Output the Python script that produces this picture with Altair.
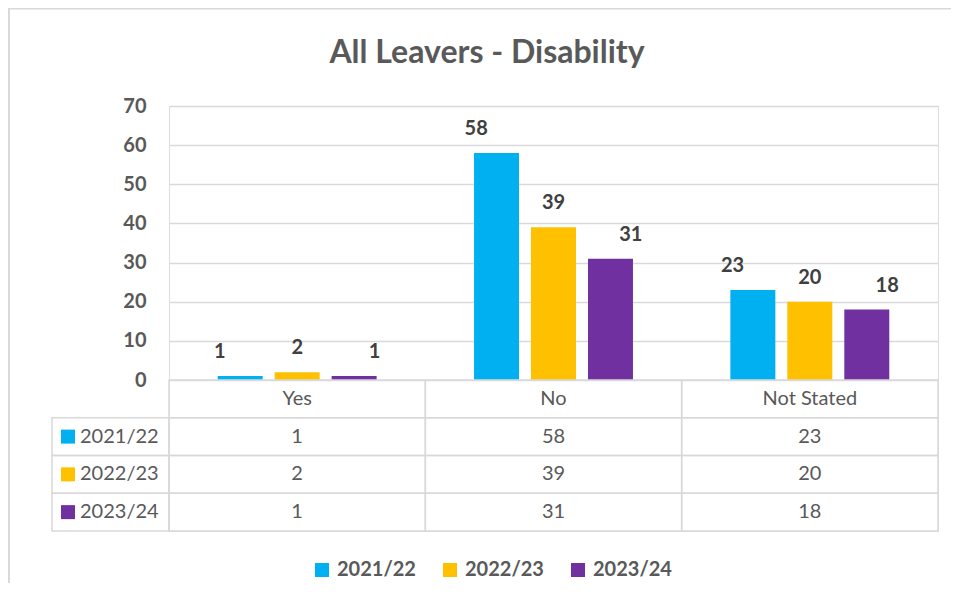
import altair as alt
import pandas as pd

categories = ["Yes", "No", "Not Stated"]
series = ["2021/22", "2022/23", "2023/24"]
values_2021_22 = [1, 58, 23]
values_2022_23 = [2, 39, 20]
values_2023_24 = [1, 31, 18]
colors = ["#00B0F0", "#FFC000", "#7030A0"]
y_ticks = [0, 10, 20, 30, 40, 50, 60, 70]
title_text = "All Leavers - Disability"

HEADER = "_header"
table_rows = [HEADER] + series

rows = []
for s, vals in zip(series, [values_2021_22, values_2022_23, values_2023_24]):
    for c, v in zip(categories, vals):
        rows.append({"category": c, "series": s, "value": v})
df = pd.DataFrame(rows)

cells = pd.DataFrame([{"category": c, "row": r} for c in categories for r in table_rows])
headers = pd.DataFrame({"category": categories, "row": [HEADER] * len(categories)})
legend_rows = pd.DataFrame({"series": series, "row": series})
frame = pd.DataFrame({"k": [0]})
title_df = pd.DataFrame({"title": [title_text]})

FONT = "Lato"
TXT = "#595959"
GRID = "#d9d9d9"
W, H = 769, 425
PLOT_H = 274

x_bars = alt.X("category:N", sort=categories, axis=None,
               scale=alt.Scale(domain=categories, paddingInner=0.3333, paddingOuter=0.1667))
x_off = alt.XOffset("series:N", sort=series,
                    scale=alt.Scale(domain=series, paddingInner=0.2105, paddingOuter=0.105))
y_scale = alt.Scale(domain=[0, 70], range=[PLOT_H, 0], nice=False, zero=True)
color = alt.Color("series:N", sort=series,
                  scale=alt.Scale(domain=series, range=colors),
                  legend=alt.Legend(title=None, orient="none", direction="horizontal",
                                    legendX=143, legendY=454,
                                    symbolType="square", symbolSize=196, symbolStrokeWidth=0,
                                    labelFont=FONT, labelFontSize=20, labelFontWeight="bold",
                                    labelColor=TXT, labelOffset=5, columnPadding=24))

x_tab = alt.X("category:N", sort=categories, axis=None,
              scale=alt.Scale(domain=categories, paddingInner=0, paddingOuter=0))
y_tab = alt.Y("row:N", sort=table_rows, axis=None,
              scale=alt.Scale(domain=table_rows, range=[PLOT_H, H], paddingInner=0, paddingOuter=0))

border_top = alt.Chart(frame).mark_rule(stroke=GRID, strokeWidth=2).encode(
    x=alt.value(-161), x2=alt.value(790), y=alt.value(-97.5)
)
border_left = alt.Chart(frame).mark_rule(stroke=GRID, strokeWidth=2).encode(
    x=alt.value(-160), y=alt.value(-98), y2=alt.value(600)
)

title = alt.Chart(title_df).mark_text(font=FONT, fontSize=32, fontWeight="bold", color=TXT,
                                      align="center", baseline="alphabetic").encode(
    x=alt.value(318), y=alt.value(-43), text="title:N"
)

bars = alt.Chart(df).mark_bar().encode(
    x=x_bars, xOffset=x_off,
    y=alt.Y("value:Q", scale=y_scale,
            axis=alt.Axis(values=y_ticks, title=None, grid=True, gridColor=GRID, gridWidth=1.5,
                          domain=False, ticks=False, tickSize=0, labelPadding=23,
                          labelFont=FONT, labelFontSize=20, labelFontWeight="bold",
                          labelColor=TXT)),
    color=color,
)

labels = alt.Chart(df).mark_text(font=FONT, fontSize=20, fontWeight="bold", color="#404040",
                                 baseline="alphabetic", dy=-18).encode(
    x=x_bars, xOffset=x_off,
    y=alt.Y("value:Q", scale=y_scale, axis=None),
    text="value:Q",
)

table_cells = alt.Chart(cells).mark_rect(fillOpacity=0, stroke=GRID, strokeWidth=1.5).encode(
    x=x_tab, y=y_tab
)

left_cells = alt.Chart(legend_rows).mark_rect(fillOpacity=0, stroke=GRID, strokeWidth=1.5).encode(
    x=alt.value(-117), x2=alt.value(0), y=y_tab
)

header_text = alt.Chart(headers).mark_text(font=FONT, fontSize=20, color=TXT, baseline="middle").encode(
    x=x_tab, y=y_tab, text="category:N"
)

table_text = alt.Chart(df).mark_text(font=FONT, fontSize=20, color=TXT, baseline="middle").encode(
    x=x_tab, y=alt.Y("series:N", sort=table_rows, axis=None,
                     scale=alt.Scale(domain=table_rows, range=[PLOT_H, H], paddingInner=0, paddingOuter=0)),
    text="value:Q",
)

left_squares = alt.Chart(legend_rows).mark_square(size=196, opacity=1).encode(
    x=alt.value(-101), y=y_tab, color=color
)

left_text = alt.Chart(legend_rows).mark_text(font=FONT, fontSize=20, color=TXT, align="left",
                                             baseline="middle").encode(
    x=alt.value(-89), y=y_tab, text="series:N"
)

chart = alt.layer(
    border_top, border_left, title, bars, labels, table_cells, left_cells, header_text,
    table_text, left_squares, left_text
).resolve_scale(
    x="independent", y="independent", xOffset="independent"
).properties(
    width=W, height=H,
    autosize=alt.AutoSizeParams(type="none"),
    padding={"left": 161, "top": 98, "right": 13, "bottom": 52},
).configure_view(stroke=None).configure(background="white")

chart.save("out.html", embed_options={"renderer": "svg", "actions": False})
